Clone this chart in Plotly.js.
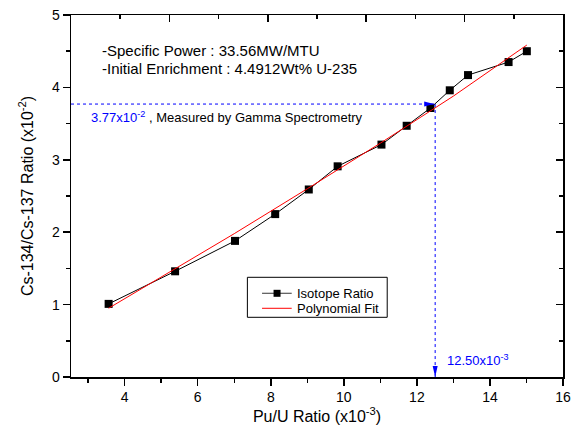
<!DOCTYPE html>
<html>
<head>
<meta charset="utf-8">
<script src="https://cdn.plot.ly/plotly-3.0.1.min.js"></script>
<style>
  html, body { margin: 0; padding: 0; background: #fff; }
  #chart { width: 571px; height: 436px; }
</style>
</head>
<body>
<div id="chart"></div>
<script>
// ---- data ----
const puRatio      = [3.56, 5.38, 7.02, 8.12, 9.04, 9.83, 11.03, 11.72, 12.37, 12.90, 13.40, 14.51, 15.01]; // x10^-3
const csRatio      = [1.01, 1.46, 1.88, 2.25, 2.59, 2.91, 3.21, 3.47, 3.715, 3.96, 4.17, 4.35, 4.50];   // x10^-2
const fitPu        = [3.56, 5.0, 7.0, 9.0, 11.0, 13.0, 15.01];
const fitCs        = [0.95, 1.38, 1.98, 2.60, 3.23, 3.88, 4.585];
const measuredCs   = 3.77;   // x10^-2
const measuredPu   = 12.50;  // x10^-3
const xRange       = [2.53, 16];
const yRange       = [0, 5];
const topRange     = [0, 10];
const infoLines    = ["-Specific Power : 33.56MW/MTU", "-Initial Enrichment : 4.4912Wt% U-235"];
const seriesNames  = ["Isotope Ratio", "Polynomial Fit"];

const FONT = "Liberation Sans, Arial, Helvetica, sans-serif";
const BLUE = "#0000ff";
const seriesColors = ["#000000", "#ff0000"];

const traces = [
  {
    x: puRatio, y: csRatio, name: seriesNames[0],
    mode: "lines+markers", type: "scatter",
    line: { color: seriesColors[0], width: 1 },
    marker: { symbol: "square", size: 8, color: seriesColors[0] }
  },
  {
    x: fitPu, y: fitCs, name: seriesNames[1],
    mode: "lines", type: "scatter",
    line: { color: seriesColors[1], width: 1 }
  },
  { x: [], y: [], xaxis: "x2", yaxis: "y2", showlegend: false, hoverinfo: "skip" }
];

const axisCommon = {
  showgrid: false, zeroline: false, showline: true,
  linecolor: "#000", linewidth: 1.5,
  tickcolor: "#000", tickwidth: 1.5,
  tickfont: { family: FONT, size: 14, color: "#000" }
};

// legend box geometry (paper coordinates), drawn by hand to match the compact original
const LG = { x0: 0.3585, x1: 0.6427, y0: 0.1649, y1: 0.2754, sx0: 0.3883, sx1: 0.4486, sxm: 0.4188, tx: 0.4553, rows: [0.2312, 0.1898] };

const shapes = [
  { type: "line", xref: "x", yref: "y", x0: xRange[0], x1: measuredPu, y0: measuredCs, y1: measuredCs,
    line: { color: BLUE, width: 1, dash: "dot" } },
  { type: "line", xref: "x", yref: "y", x0: measuredPu, x1: measuredPu, y0: measuredCs, y1: yRange[0],
    line: { color: BLUE, width: 1, dash: "dot" } },
  { type: "path", xref: "x", yref: "y", xsizemode: "pixel", ysizemode: "pixel",
    xanchor: measuredPu, yanchor: measuredCs,
    path: "M -1 0 L -11 2.5 L -11 -2.5 Z", fillcolor: BLUE, line: { color: BLUE, width: 0 } },
  { type: "path", xref: "x", yref: "y", xsizemode: "pixel", ysizemode: "pixel",
    xanchor: measuredPu, yanchor: yRange[0],
    path: "M 0 0 L -2.5 11 L 2.5 11 Z", fillcolor: BLUE, line: { color: BLUE, width: 0 } },
  // legend
  { type: "rect", xref: "paper", yref: "paper", x0: LG.x0, x1: LG.x1, y0: LG.y0, y1: LG.y1,
    fillcolor: "#fff", line: { color: "#000", width: 1 }, layer: "above" },
  { type: "line", xref: "paper", yref: "paper", x0: LG.sx0, x1: LG.sx1, y0: LG.rows[0], y1: LG.rows[0],
    line: { color: "#555", width: 1.2 }, layer: "above" },
  { type: "rect", xref: "paper", yref: "paper", xsizemode: "pixel", ysizemode: "pixel",
    xanchor: LG.sxm, yanchor: LG.rows[0], x0: -3.5, x1: 3.5, y0: -3.5, y1: 3.5,
    fillcolor: seriesColors[0], line: { width: 0 }, layer: "above" },
  { type: "line", xref: "paper", yref: "paper", x0: LG.sx0, x1: LG.sx1, y0: LG.rows[1], y1: LG.rows[1],
    line: { color: seriesColors[1], width: 1 }, layer: "above" }
];

const annotations = [
  { xref: "paper", yref: "paper", x: 0.058, y: 0.903, xanchor: "left", yanchor: "middle",
    text: infoLines[0], showarrow: false, font: { family: FONT, size: 15, color: "#000" } },
  { xref: "paper", yref: "paper", x: 0.058, y: 0.853, xanchor: "left", yanchor: "middle",
    text: infoLines[1], showarrow: false, font: { family: FONT, size: 15, color: "#000" } },
  { xref: "paper", yref: "y", x: 0.037, y: measuredCs, yshift: -13, xanchor: "left", yanchor: "middle",
    text: '<span style="color:' + BLUE + '">' + measuredCs.toFixed(2) + 'x10<sup>-2</sup></span> , Measured by Gamma Spectrometry',
    showarrow: false, font: { family: FONT, size: 13, color: "#000" } },
  { xref: "x", yref: "y", x: measuredPu, y: yRange[0], xshift: 10, yshift: 17, xanchor: "left", yanchor: "middle",
    text: measuredPu.toFixed(2) + 'x10<sup>-3</sup>',
    showarrow: false, font: { family: FONT, size: 13, color: BLUE } }
];
seriesNames.forEach(function (nm, i) {
  annotations.push({ xref: "paper", yref: "paper", x: LG.tx, y: LG.rows[i], xanchor: "left", yanchor: "middle",
    text: nm, showarrow: false, font: { family: FONT, size: 13, color: "#000" } });
});

const layout = {
  width: 571, height: 436,
  margin: { l: 71, r: 8, t: 15, b: 59 },
  paper_bgcolor: "#fff", plot_bgcolor: "#fff",
  font: { family: FONT, color: "#000" },
  showlegend: false,
  xaxis: Object.assign({}, axisCommon, {
    range: xRange, tick0: 4, dtick: 2,
    ticks: "outside", ticklen: 7,
    minor: { dtick: 1, tick0: 3, ticks: "outside", ticklen: 4, tickwidth: 1.5, tickcolor: "#000" },
    title: { text: "Pu/U Ratio (x10<sup>-3</sup>)", font: { family: FONT, size: 16, color: "#000" }, standoff: 4 }
  }),
  yaxis: Object.assign({}, axisCommon, {
    range: yRange, tick0: 0, dtick: 1,
    ticks: "outside", ticklen: 7,
    minor: { dtick: 0.5, ticks: "outside", ticklen: 4, tickwidth: 1.5, tickcolor: "#000" },
    title: { text: "Cs-134/Cs-137 Ratio (x10<sup>-2</sup>)", font: { family: FONT, size: 16, color: "#000" }, standoff: 14 }
  }),
  xaxis2: Object.assign({}, axisCommon, {
    overlaying: "x", side: "top", range: topRange, tick0: 0, dtick: 2,
    ticks: "inside", ticklen: 7, showticklabels: false,
    minor: { dtick: 1, ticks: "inside", ticklen: 4, tickwidth: 1.5, tickcolor: "#000" }
  }),
  yaxis2: Object.assign({}, axisCommon, {
    overlaying: "y", side: "right", range: yRange, tick0: 0, dtick: 1,
    ticks: "inside", ticklen: 7, showticklabels: false,
    minor: { dtick: 0.5, ticks: "inside", ticklen: 4, tickwidth: 1.5, tickcolor: "#000" }
  }),
  shapes: shapes,
  annotations: annotations
};

Plotly.newPlot("chart", traces, layout, { staticPlot: true, displayModeBar: false });
</script>
</body>
</html>
